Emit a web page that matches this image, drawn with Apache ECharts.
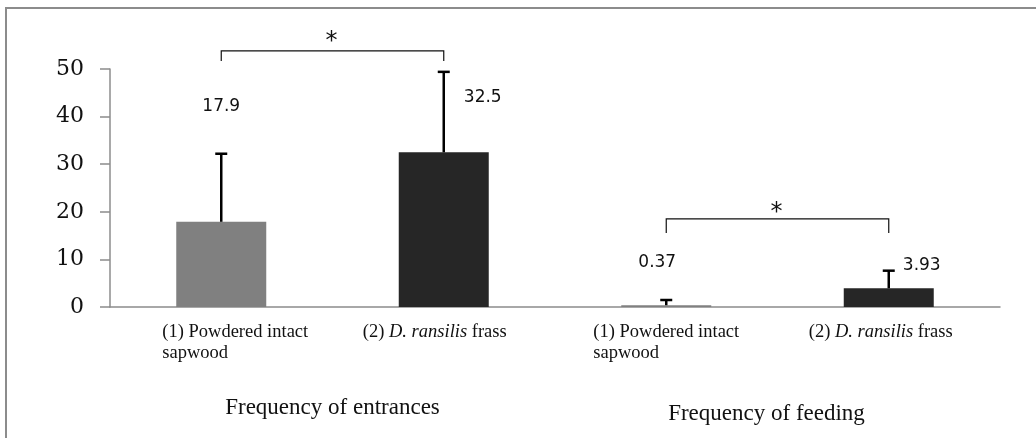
<!DOCTYPE html>
<html>
<head>
<meta charset="utf-8">
<script src="https://cdn.jsdelivr.net/npm/echarts@6/dist/echarts.min.js"></script>
<style>
html,body{margin:0;padding:0;background:#fff;}
#c{width:1036px;height:438px;}
</style>
</head>
<body>
<div id="c"></div>
<script>
// ---- data ----
const categories = ['(1) Powdered intact\nsapwood', '(2) D. ransilis frass', '(1) Powdered intact\nsapwood', '(2) D. ransilis frass'];
const groups = ['Frequency of entrances', 'Frequency of feeding'];
const means = [17.9, 32.5, 0.37, 3.93];
const errors = [14.3, 16.9, 1.1, 3.7];
const valueLabels = ['17.9', '32.5', '0.37', '3.93'];
const yTicks = [0, 10, 20, 30, 40, 50];
const significance = [[0, 1, '*'], [2, 3, '*']];
const bracketLevels = [53.8, 18.5];

const barColors = ['#808080', '#262626', '#808080', '#262626'];
const serif = '"Liberation Serif", "DejaVu Serif", serif';

// label placement: [x pixel offset from bar centre, y in data units]
const labelPlace = [[0, 42.2], [39, 43.9], [-9, 9.3], [33, 8.6]];
// horizontal nudges of category labels (pixel padding left/right)
const catPad = [[0, 0, 0, 28], [0, 18, 0, 0], [0, 0, 0, 0], [0, 16, 0, 0]];

function catFormatter(v) {
  const lines = v.split('\n');
  if (lines.length > 1) {
    return lines.map(l => '{l|' + l + '}').join('\n');
  }
  if (v.indexOf('D. ransilis') >= 0) {
    const parts = v.split('D. ransilis');
    return '{n|' + parts[0] + '}{i|D. ransilis}{n|' + parts[1] + '}';
  }
  return '{n|' + v + '}';
}

const chart = echarts.init(document.getElementById('c'), null, {renderer: 'canvas'});
const fs = 18.5;
const option = {
  animation: false,
  backgroundColor: '#fff',
  graphic: [{
    type: 'rect', shape: {x: 6, y: 8, width: 1200, height: 600},
    style: {fill: 'none', stroke: '#8c8c8c', lineWidth: 2}, silent: true, z: -1
  }],
  grid: {left: 110, right: 36, top: 69, bottom: 131, containLabel: false},
  xAxis: [{
    type: 'category', position: 'bottom',
    data: categories.map((c, i) => ({value: c, textStyle: {padding: catPad[i]}})),
    axisLine: {show: true, lineStyle: {color: '#8c8c8c', width: 1.5}},
    axisTick: {show: false},
    axisLabel: {
      interval: 0, margin: 15, color: '#111', fontFamily: serif, fontSize: fs,
      formatter: catFormatter,
      rich: {
        l: {align: 'left', fontFamily: serif, fontSize: fs, lineHeight: 21, color: '#111'},
        n: {fontFamily: serif, fontSize: fs, lineHeight: 21, color: '#111'},
        i: {fontFamily: serif, fontSize: fs, lineHeight: 21, fontStyle: 'italic', color: '#111'}
      }
    }
  }, {
    type: 'category', data: [groups[0], {value: groups[1], textStyle: {padding: [6, 22, 0, 0]}}], position: 'bottom', offset: 81,
    axisLine: {show: false}, axisTick: {show: false},
    axisLabel: {interval: 0, color: '#111', fontFamily: serif, fontSize: 23}
  }],
  yAxis: {
    type: 'value', min: 0, max: 50, interval: 10,
    axisLine: {show: true, lineStyle: {color: '#8c8c8c', width: 1.5}},
    axisTick: {show: true, inside: false, length: 10, lineStyle: {color: '#8c8c8c', width: 1.5}},
    splitLine: {show: false},
    axisLabel: {margin: 26, color: '#111', fontFamily: '"DejaVu Serif", serif', fontSize: 22,
      formatter: v => yTicks.indexOf(v) >= 0 ? String(v) : ''}
  },
  series: [{
    type: 'bar', xAxisIndex: 0, barWidth: 90,
    data: means.map((v, i) => ({value: v, itemStyle: {color: barColors[i]}})),
    z: 2
  }, {
    type: 'custom', xAxisIndex: 0, z: 3,
    data: means.map((v, i) => [i, v, v + errors[i]]),
    renderItem: function (params, api) {
      const i = api.value(0);
      const p0 = api.coord([i, api.value(1)]);
      const p1 = api.coord([i, api.value(2)]);
      return {
        type: 'group', children: [
          {type: 'line', shape: {x1: p0[0], y1: p0[1], x2: p1[0], y2: p1[1]}, style: {stroke: '#000', lineWidth: 2.5}},
          {type: 'line', shape: {x1: p1[0] - 6, y1: p1[1], x2: p1[0] + 6, y2: p1[1]}, style: {stroke: '#000', lineWidth: 2.5}}
        ]
      };
    }
  }, {
    type: 'custom', xAxisIndex: 0, z: 4,
    data: means.map((v, i) => [i, v]),
    renderItem: function (params, api) {
      const i = api.value(0);
      const pl = labelPlace[i];
      const p = api.coord([i, pl[1]]);
      return {
        type: 'text',
        style: {x: p[0] + pl[0], y: p[1], text: valueLabels[i], textAlign: 'center', textVerticalAlign: 'middle',
          fill: '#111', font: '17px "DejaVu Sans", sans-serif'}
      };
    }
  }, {
    type: 'custom', xAxisIndex: 0, z: 4, clip: false,
    data: significance.map((s, k) => [s[0], s[1], bracketLevels[k]]),
    renderItem: function (params, api) {
      const a = api.coord([api.value(0), api.value(2)]);
      const b = api.coord([api.value(1), api.value(2)]);
      const first = params.dataIndex === 0;
      const leg = first ? 10 : 14;
      const mid = (a[0] + b[0]) / 2;
      return {
        type: 'group', children: [
          {type: 'polyline', shape: {points: [[a[0], a[1] + leg], [a[0], a[1]], [b[0], b[1]], [b[0], b[1] + leg]]},
            style: {stroke: '#111', lineWidth: 1.2, fill: 'none'}},
          {type: 'text', style: {x: mid - 1, y: a[1] - (first ? 9 : 6), text: significance[params.dataIndex][2], textAlign: 'center',
            textVerticalAlign: 'middle', fill: '#111', font: '24px "DejaVu Sans", sans-serif'}}
        ]
      };
    }
  }]
};
chart.setOption(option);
</script>
</body>
</html>
